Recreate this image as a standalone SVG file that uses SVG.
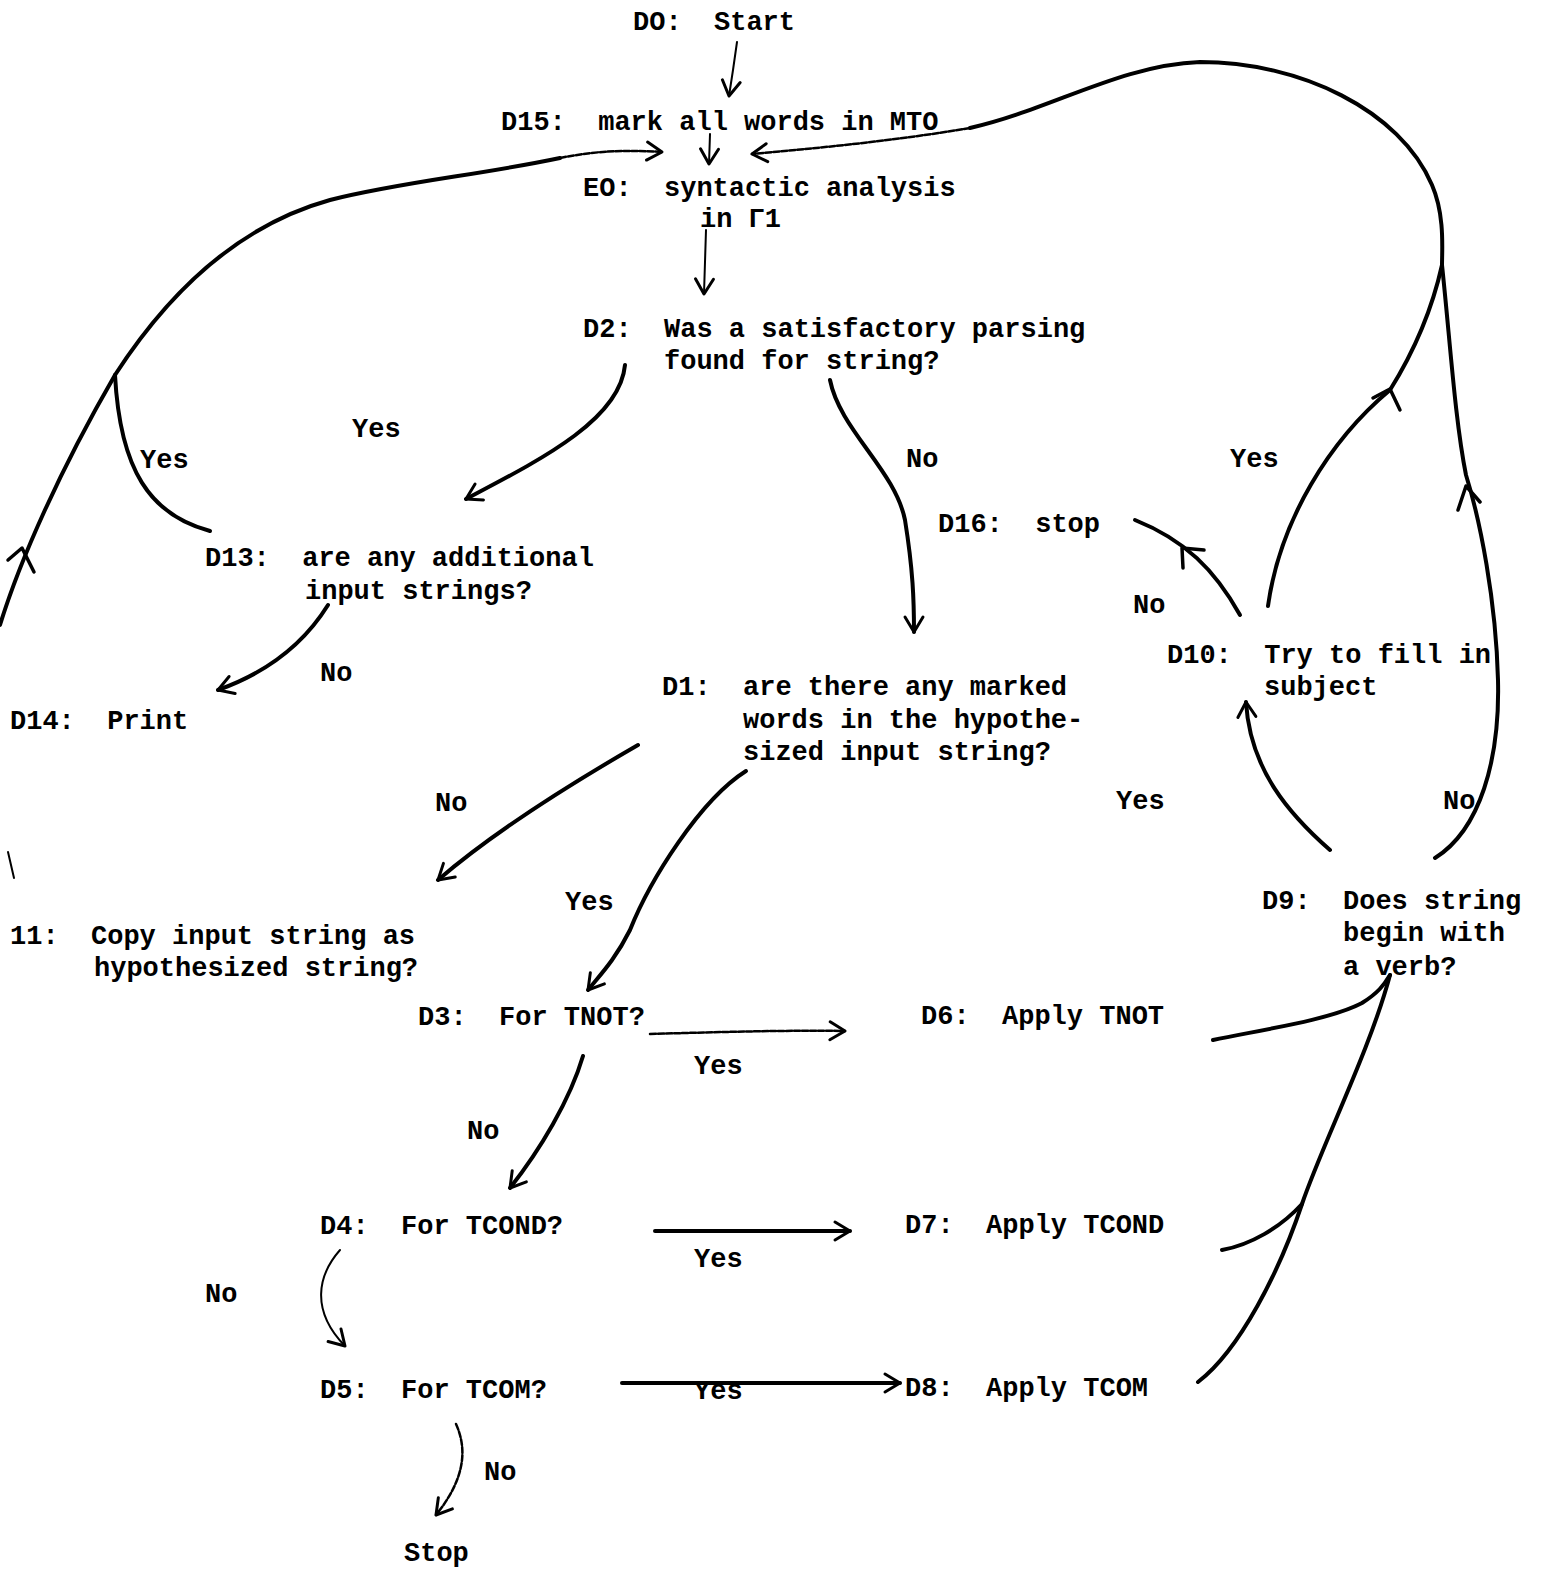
<svg xmlns="http://www.w3.org/2000/svg" width="1545" height="1573" viewBox="0 0 1545 1573">
<style>
text{font-family:"Liberation Mono","DejaVu Sans Mono",monospace;font-weight:bold;font-size:27px;fill:#000;white-space:pre}
.c{fill:none;stroke:#000;stroke-width:4;stroke-linecap:round;stroke-linejoin:round}
.t{fill:none;stroke:#000;stroke-width:2;stroke-linecap:round}
.d{fill:none;stroke:#000;stroke-width:2.5;stroke-dasharray:6 2;stroke-linecap:round}
.ah{fill:none;stroke:#000;stroke-width:3.5;stroke-linecap:round;stroke-linejoin:round}
</style>
<defs>
<marker id="a" viewBox="0 0 24 24" refX="21" refY="12" markerWidth="24" markerHeight="24" markerUnits="userSpaceOnUse" orient="auto">
<path d="M6,3 L21,12 L6,21" fill="none" stroke="#000" stroke-width="3" stroke-linecap="round" stroke-linejoin="round"/>
</marker>
</defs>
<rect width="1545" height="1573" fill="#fff"/>
<g id="connectors">
<path class="t" d="M737,42 L733,70 L729,96" marker-end="url(#a)"/>
<path class="t" d="M710,134 L709,164" marker-end="url(#a)"/>
<path class="t" d="M706,230 L704,294" marker-end="url(#a)"/>
<path class="c" d="M0,625 C20,560 60,470 115,375 C170,290 240,225 330,200 C400,182 480,175 560,158"/>
<path class="d" d="M560,158 C600,150 630,150 662,152" marker-end="url(#a)"/>
<path class="ah" d="M8,560 L22,548 L34,572"/>
<path class="t" d="M8,852 L14,878"/>
<path class="c" d="M210,531 C150,515 120,470 115,375"/>
<path class="d" d="M970,128 C900,140 820,148 752,154" marker-end="url(#a)"/>
<path class="c" d="M970,128 C1050,110 1120,65 1200,62 C1300,62 1400,110 1432,185 C1445,215 1442,250 1442,265"/>
<path class="c" d="M1268,606 C1280,520 1330,440 1390,390 C1415,350 1432,310 1442,265"/>
<path class="ah" d="M1373,398 L1390,389 L1400,410"/>
<path class="c" d="M1435,858 C1480,830 1500,760 1498,680 C1496,600 1480,520 1466,475 C1455,420 1450,340 1442,265"/>
<path class="ah" d="M1458,510 L1466,486 L1480,502"/>
<path class="c" d="M625,365 C620,420 540,460 466,499" marker-end="url(#a)"/>
<path class="c" d="M830,380 C840,430 895,470 905,520 C913,570 914,600 914,632" marker-end="url(#a)"/>
<path class="c" d="M328,605 C300,650 260,675 218,690" marker-end="url(#a)"/>
<path class="c" d="M1240,615 C1215,570 1185,540 1135,520"/>
<path class="ah" d="M1183,568 L1182,548 L1204,550"/>
<path class="c" d="M1330,850 C1290,815 1250,770 1246,702" marker-end="url(#a)"/>
<path class="c" d="M638,745 C560,790 490,835 438,880" marker-end="url(#a)"/>
<path class="c" d="M746,771 C700,800 650,880 630,930 C615,960 600,975 588,990" marker-end="url(#a)"/>
<path class="d" d="M650,1034 C720,1032 790,1030 845,1031" marker-end="url(#a)"/>
<path class="c" d="M583,1056 C570,1100 540,1150 510,1188" marker-end="url(#a)"/>
<path class="c" d="M655,1231 L850,1231" marker-end="url(#a)"/>
<path class="t" d="M340,1250 C318,1275 310,1310 345,1346" marker-end="url(#a)"/>
<path class="c" d="M622,1383 L900,1383" marker-end="url(#a)"/>
<path class="d" d="M456,1424 C470,1455 460,1485 436,1515" marker-end="url(#a)"/>
<path class="c" d="M1213,1040 C1260,1030 1330,1020 1362,1003 C1378,993 1384,985 1390,975"/>
<path class="c" d="M1222,1250 C1250,1245 1280,1228 1302,1204"/>
<path class="c" d="M1198,1382 C1240,1350 1280,1270 1302,1204 C1322,1145 1370,1050 1390,975"/>
</g>
<g id="D0"><text x="633" y="30">DO:  Start</text></g>
<g id="D15"><text x="501" y="130">D15:  mark all words in MTO</text></g>
<g id="E0"><text x="583" y="196">EO:  syntactic analysis</text><text x="700" y="227">in Γ1</text></g>
<g id="D2"><text x="583" y="337">D2:  Was a satisfactory parsing</text><text x="664" y="369">found for string?</text></g>
<g id="D13"><text x="205" y="566">D13:  are any additional</text><text x="305" y="599">input strings?</text></g>
<g id="D14"><text x="10" y="729">D14:  Print</text></g>
<g id="D16"><text x="938" y="532">D16:  stop</text></g>
<g id="D10"><text x="1167" y="663">D10:  Try to fill in</text><text x="1264" y="695">subject</text></g>
<g id="D1"><text x="662" y="695">D1:  are there any marked</text><text x="743" y="728">words in the hypothe-</text><text x="743" y="760">sized input string?</text></g>
<g id="D11"><text x="10" y="944">11:  Copy input string as</text><text x="94" y="976">hypothesized string?</text></g>
<g id="D9"><text x="1262" y="909">D9:  Does string</text><text x="1343" y="941">begin with</text><text x="1343" y="975">a verb?</text></g>
<g id="D3"><text x="418" y="1025">D3:  For TNOT?</text></g>
<g id="D6"><text x="921" y="1024">D6:  Apply TNOT</text></g>
<g id="D4"><text x="320" y="1234">D4:  For TCOND?</text></g>
<g id="D7"><text x="905" y="1233">D7:  Apply TCOND</text></g>
<g id="D5"><text x="320" y="1398">D5:  For TCOM?</text></g>
<g id="D8"><text x="905" y="1396">D8:  Apply TCOM</text></g>
<g id="Stop"><text x="404" y="1561">Stop</text></g>
<g id="labels">
<text x="352" y="437">Yes</text>
<text x="140" y="468">Yes</text>
<text x="906" y="467">No</text>
<text x="1230" y="467">Yes</text>
<text x="1133" y="613">No</text>
<text x="320" y="681">No</text>
<text x="435" y="811">No</text>
<text x="1116" y="809">Yes</text>
<text x="1443" y="809">No</text>
<text x="565" y="910">Yes</text>
<text x="694" y="1074">Yes</text>
<text x="467" y="1139">No</text>
<text x="694" y="1267">Yes</text>
<text x="205" y="1302">No</text>
<text x="694" y="1399">Yes</text>
<text x="484" y="1480">No</text>
</g>
</svg>
